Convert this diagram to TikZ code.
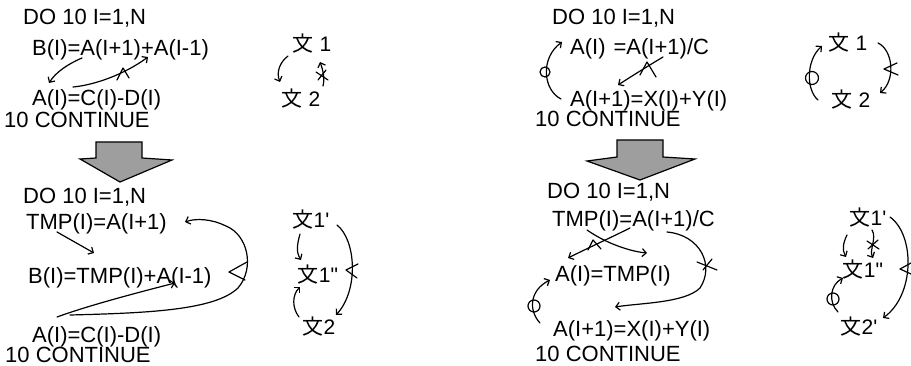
\documentclass[tikz,border=0pt]{standalone}
\usepackage{fontspec}
\setmainfont{Liberation Sans}[Ligatures=TeXOff]
\newfontfamily\cjk{Noto Sans CJK JP}
\usetikzlibrary{arrows.meta}
\tikzset{
  code/.style={anchor=base west, inner sep=0pt, font=\fontsize{22}{26}\selectfont},
  stmt/.style={inner sep=0pt, font=\fontsize{21}{25}\selectfont},
  dep/.style={line width=1.2pt, -{Straight Barb[length=4pt,width=8pt]}, line cap=round},
  xmark/.style={line width=1.2pt, line cap=round, line join=round},
  omark/.style={line width=1.2pt},
  blockarrow/.style={draw, line width=1.2pt, fill=black!38},
}
\begin{document}
\begin{tikzpicture}[x=1pt,y=-1pt]
\useasboundingbox (0,0) rectangle (911,366);

% ---------------- top left ----------------
\node[code] (a1) at (23,25) {DO 10 I=1,N};
\node[code] (a2) at (32,56) {B(I)=A(I+1)+A(I-1)};
\node[code] (a3) at (32,106) {A(I)=C(I)-D(I)};
\node[code] (a4) at (4,128) {10 CONTINUE};
\coordinate (a2s) at (82,58);
\coordinate (a3n) at (49,83);
\coordinate (a3e) at (73,87);
\coordinate (a2t) at (148,57);
\draw[dep] (a2s) .. controls (68,64) and (56,72) .. (a3n);
\draw[dep] (a3e) .. controls (95,85) and (125,74) .. (a2t);
\draw[xmark] (117,80) -- (123,68) -- (129,78);

\node[stmt] (s1) at (312,44) {{\cjk 文} 1};
\node[stmt] (s2) at (301,99) {{\cjk 文} 2};
\draw[dep] (288,56) .. controls (280,62) and (276,72) .. (280,82);
\draw[dep] (323,86) .. controls (325,78) and (323,70) .. (320,62);
\draw[xmark] (316,72) -- (328,80);
\draw[xmark] (318,80) -- (326,70);

% ---------------- top right ----------------
\node[code] (b1) at (552,25) {DO 10 I=1,N};
\node[code] (b2) at (570,55) {A(I)\hspace{8pt}=A(I+1)/C};
\node[code] (b3) at (570,107) {A(I+1)=X(I)+Y(I)};
\node[code] (b4) at (535,127) {10 CONTINUE};
\draw[dep] (561,99) .. controls (543,90) and (540,58) .. (562,42);
\draw[omark] (545,72) circle (5);
\draw[dep] (663,57) .. controls (648,66) and (632,76) .. (618,85);
\draw[xmark] (640,75) -- (647,62) -- (656,77);

\node[stmt] (t1) at (848,43) {{\cjk 文} 1};
\node[stmt] (t2) at (851,100) {{\cjk 文} 2};
\draw[dep] (818,100) .. controls (806,90) and (806,60) .. (822,46);
\draw[omark] (812,78) circle (6.5);
\draw[dep] (878,43) .. controls (893,50) and (896,80) .. (880,93);
\draw[xmark] (897,63) -- (884,69) -- (898,75);

% ---------------- block arrows ----------------
\draw[blockarrow] (96,142) -- (142,142) -- (142,158) -- (172,160) -- (120,182) -- (80,159) -- (96,158) -- cycle;
\draw[blockarrow] (617,140) -- (663,140) -- (663,157) -- (695,159) -- (640,180) -- (587,161) -- (617,157) -- cycle;

% ---------------- bottom left ----------------
\node[code] (c1) at (23,204) {DO 10 I=1,N};
\node[code] (c2) at (26,230) {TMP(I)=A(I+1)};
\node[code] (c3) at (28,284) {B(I)=TMP(I)+A(I-1)};
\node[code] (c4) at (32,342) {A(I)=C(I)-D(I)};
\node[code] (c5) at (5,362) {10 CONTINUE};
\draw[dep] (57,232) -- (94,253);
\draw[dep] (57,317) .. controls (90,305) and (140,292) .. (175,283);
\draw[dep] (70,315) .. controls (150,313) and (215,310) .. (238,288)
   .. controls (255,268) and (248,235) .. (226,226)
   .. controls (212,219) and (196,218) .. (185,222);
\draw[xmark] (247,262) -- (229,272) -- (245,280);

\node[stmt] (u1) at (311,220) {{\cjk 文}1'};
\node[stmt] (u2) at (318,275) {{\cjk 文}1"};
\node[stmt] (u3) at (319,327) {{\cjk 文}2};
\draw[dep] (300,234) .. controls (297,245) and (296,252) .. (301,260);
\draw[dep] (299,317) .. controls (292,308) and (292,295) .. (300,287);
\draw[dep] (337,225) .. controls (356,240) and (359,290) .. (336,315);
\draw[xmark] (358,264) -- (346,270) -- (357,278);

% ---------------- bottom right ----------------
\node[code] (d1) at (547,199) {DO 10 I=1,N};
\node[code] (d2) at (552,227) {TMP(I)=A(I+1)/C};
\node[code] (d3) at (555,282) {A(I)=TMP(I)};
\node[code] (d4) at (553,337) {A(I+1)=X(I)+Y(I)};
\node[code] (d5) at (535,361) {10 CONTINUE};
\draw[dep] (587,230) .. controls (610,246) and (635,252) .. (647,253);
\draw[dep] (630,228) .. controls (610,238) and (588,248) .. (568,258);
\draw[xmark] (588,250) -- (593,240) -- (601,249);
\draw[dep] (667,232) .. controls (700,235) and (715,265) .. (700,288)
   .. controls (685,303) and (640,303) .. (615,307);
\draw[xmark] (697,262) -- (717,270);
\draw[xmark] (703,270) -- (712,259);
\draw[dep] (540,323) .. controls (528,310) and (530,290) .. (550,280);
\draw[omark] (534,306) circle (6);

\node[stmt] (v1) at (868,218) {{\cjk 文}1'};
\node[stmt] (v2) at (863,270) {{\cjk 文}1"};
\node[stmt] (v3) at (859,327) {{\cjk 文}2'};
\draw[dep] (847,235) .. controls (843,243) and (842,250) .. (846,257);
\draw[dep] (872,230) .. controls (877,238) and (869,250) .. (873,258);
\draw[xmark] (867,241) -- (879,249);
\draw[xmark] (868,249) -- (878,240);
\draw[dep] (838,312) .. controls (828,302) and (830,285) .. (843,278);
\draw[omark] (833,299) circle (6);
\draw[dep] (890,217) .. controls (915,235) and (915,295) .. (883,318);
\draw[xmark] (911,263) -- (900,269) -- (911,274);
\end{tikzpicture}
\end{document}
